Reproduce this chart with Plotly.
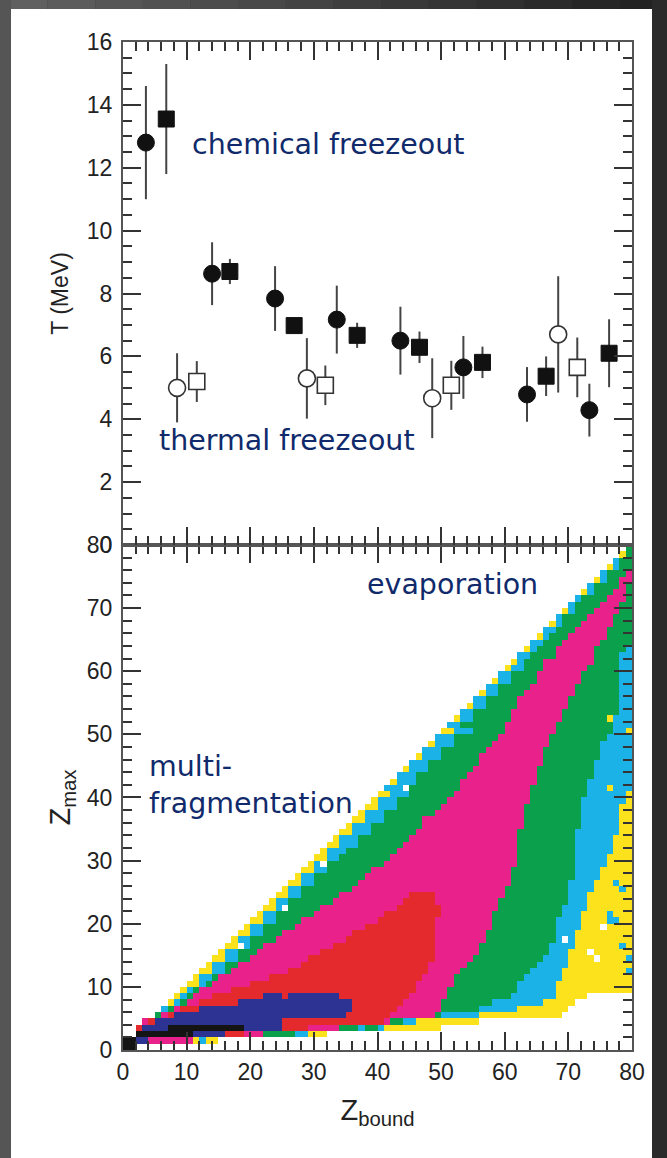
import re
import plotly.graph_objects as go

# ---------------- top panel: temperatures ----------------
chem_circle_x = [3.6, 14.0, 23.9, 33.6, 43.6, 53.5, 63.5, 73.3]
chem_circle_T = [12.8, 8.63, 7.84, 7.17, 6.5, 5.65, 4.79, 4.29]
chem_circle_err = [1.8, 1.0, 1.03, 1.08, 1.08, 1.0, 0.87, 0.84]

chem_square_x = [6.8, 16.8, 26.9, 36.8, 46.6, 56.5, 66.5, 76.4]
chem_square_T = [13.55, 8.7, 6.98, 6.67, 6.29, 5.81, 5.37, 6.1]
chem_square_err = [1.75, 0.4, 0.25, 0.4, 0.5, 0.5, 0.63, 1.08]

therm_circle_x = [8.5, 28.9, 48.6, 68.4]
therm_circle_T = [5.0, 5.3, 4.67, 6.7]
therm_circle_err = [1.1, 1.28, 1.27, 1.85]

therm_square_x = [11.6, 31.8, 51.6, 71.4]
therm_square_T = [5.2, 5.08, 5.08, 5.65]
therm_square_err = [0.65, 0.63, 0.78, 0.95]

# ---------------- bottom panel: Zmax vs Zbound map ----------------
# one string per Zmax bin (row 0 .. 79): "<start Zbound><level>" runs,
# levels: y yellow, c cyan, g green, m magenta, r red, b blue, k black, . empty
ZMAX_ROWS = [
    "0k 2.",
    "0k 2b 4m 11y 12c 13y 15.",
    "2k 11b 16r 19m 22g 27c 29y 32.",
    "2r 3b 7k 19b 25r 29m 34g 37c 38g 40c 41y 50.",
    "3m 4r 5b 25r 41m 42g 44c 46y 56.",
    "5g 6m 7r 8b 35r 42m 49g 50c 56y 69.",
    "6c 7g 8m 9r 12b 36r 43m 50g 56c 62y 70.",
    "7y 8c 9g 10m 12r 18b 36r 44m 50g 58c 66y 71.",
    "8y 9c 10g 11m 14r 22b 25r 26b 34r 45m 51g 61c 68y 73.",
    "9y 10c 11g 12m 17r 46m 51g 62c 68y 80.",
    "10y 12c 13g 14m 20r 46m 52g 62c 68y 80.",
    "11y 12c 14g 15m 23r 47m 52g 63c 69y 80.",
    "12y 14c 16g 17m 26r 48m 53g 64c 69y 80.",
    "13y 14c 16g 18m 28r 48m 54g 65c 70y 80.",
    "14y 16c 18g 20m 29r 49m 55g 66c 70y 80.",
    "15y 16c 18g 21m 31r 49m 56g 67c 70y 80.",
    "16y 18c 20g 22m 33r 49m 56g 67c 71y 80.",
    "17y 18c 20g 24m 35r 49m 57g 68c 71y 80.",
    "18y 20c 22g 25m 36r 49m 57g 68c 71y 80.",
    "19y 20c 22g 27m 38r 49m 58g 68c 72y 80.",
    "20y 22c 24g 28m 40r 49m 58g 68c 72y 80.",
    "21y 22c 24g 30m 41r 50m 58g 69c 72y 80.",
    "22y 24c 26g 31m 43r 50m 59g 69c 73y 80.",
    "23y 24c 26g 33m 44r 49m 59g 70c 73y 80.",
    "24y 26c 28g 34m 45r 49m 60g 70c 73y 80.",
    "25y 26c 28g 36m 60g 70c 74y 80.",
    "26y 28c 30g 37m 61g 70c 74y 80.",
    "27y 28c 30g 38m 61g 71c 75y 80.",
    "28y 30c 32g 39m 61g 71c 75y 80.",
    "29y 30c 32g 41m 62g 71c 76y 80.",
    "30y 32c 34g 42m 62g 71c 76y 80.",
    "31y 32c 35g 43m 62g 71c 77y 80.",
    "32y 34c 37g 44m 62g 71c 77y 80.",
    "33y 34c 37g 45m 62g 71c 77y 80.",
    "34y 36c 39g 46m 62g 71c 78y 80.",
    "35y 36c 39g 47m 63g 72c 78y 80.",
    "36y 38c 41g 47m 63g 72c 78y 80.",
    "37y 38c 41g 49m 63g 72c 78y 80.",
    "38y 40c 43g 50m 63g 72c 79y 80.",
    "39y 40c 43g 51m 64g 72c 79y 80.",
    "40y 42c 45g 52m 64g 73c 79y 80.",
    "41c 44g 53m 64g 73c 80.",
    "42y 43c 46g 53m 65g 73c 80.",
    "43c 46g 54m 65g 74c 80.",
    "44y 45c 48g 55m 65g 74c 80.",
    "45c 48g 56m 66g 74c 80.",
    "46y 47c 50g 56m 66g 75c 80.",
    "47c 50g 57m 66g 75c 80.",
    "48y 49c 52g 58m 67g 75c 80.",
    "49c 52g 59m 67g 76c 80.",
    "50y 52c 55g 60m 68g 77c 80.",
    "51c 53g 60m 68g 77c 80.",
    "52y 53c 55g 61m 69g 77c 80.",
    "53c 55g 61m 69g 78c 80.",
    "54y 55c 57g 62m 70g 78c 80.",
    "55c 57g 62m 70g 78c 80.",
    "56y 57c 59g 63m 71g 78c 80.",
    "57c 59g 64m 71g 78c 80.",
    "58y 59c 61g 65m 72g 78c 80.",
    "59c 61g 65m 72g 78c 80.",
    "60y 61c 63g 66m 73g 78c 80.",
    "61y 62c 63g 66m 74g 78c 80.",
    "62c 64g 68m 74g 78c 80.",
    "63y 64c 65g 68m 74g 79c 80.",
    "64c 66g 69m 75g 80.",
    "65y 66c 67g 70m 76g 80.",
    "66c 68g 71m 76g 80.",
    "67y 68c 69g 72m 77g 80.",
    "68c 69g 73m 77g 80.",
    "69y 70c 71g 74m 78g 80.",
    "70c 71g 75m 78g 80.",
    "71c 72g 76m 79g 80.",
    "72y 73c 74g 77m 79g 80.",
    "73c 74g 78m 79g 80.",
    "74y 75c 76g 78m 80.",
    "75c 76g 79m 80.",
    "76y 77c 78g 80.",
    "77c 78g 80.",
    "78y 79g 80.",
    "79g 80.",
]
# isolated cells (Zbound, Zmax, level)
SPECKS = [
    (76, 52, "y"), (79, 50, "y"), (76, 41, "y"), (78, 38, "y"),
    (76, 20, "c"), (77, 20, "c"), (76, 21, "c"), (78, 16, "c"), (79, 14, "c"),
    (79, 12, "c"), (78, 25, "c"), (77, 26, "c"), (74, 28, "c"),
    (73, 15, "."), (74, 14, "."), (75, 19, "."), (69, 17, "."),
    (18, 16, "."), (31, 29, "."), (25, 22, "."), (44, 41, "."),
]
LEVEL_COLORS = ["#fbe21d", "#1bb2e8", "#0ba04b", "#e8218b", "#e42a2c", "#2d3393", "#141414"]
LEVEL_CODES = {".": None, "y": 1, "c": 2, "g": 3, "m": 4, "r": 5, "b": 6, "k": 7}

NB = 80
zgrid = [[None] * NB for _ in range(NB)]
for j, row in enumerate(ZMAX_ROWS):
    toks = re.findall(r"(\d+)([.ycgmrbk])", row)
    for (s, lv), (e, _) in zip(toks, toks[1:]):
        for i in range(int(s), int(e)):
            zgrid[j][i] = LEVEL_CODES[lv]
for (i, j, lv) in SPECKS:
    zgrid[j][i] = LEVEL_CODES[lv]

nlev = len(LEVEL_COLORS)
cscale = []
for k, col in enumerate(LEVEL_COLORS):
    cscale.append([k / nlev, col])
    cscale.append([(k + 1) / nlev, col])

fig = go.Figure()

fig.add_trace(go.Heatmap(
    x=[i + 0.5 for i in range(NB)], y=[j + 0.5 for j in range(NB)], z=zgrid,
    colorscale=cscale, zmin=0.5, zmax=nlev + 0.5, showscale=False,
    hoverinfo="skip", xaxis="x", yaxis="y",
))

err_style = dict(type="data", color="#444", thickness=2, width=0)
fig.add_trace(go.Scatter(
    x=chem_circle_x, y=chem_circle_T, mode="markers", xaxis="x2", yaxis="y2",
    error_y=dict(array=chem_circle_err, **err_style),
    marker=dict(symbol="circle", size=17, color="#111", line=dict(color="#111", width=1)),
))
fig.add_trace(go.Scatter(
    x=chem_square_x, y=chem_square_T, mode="markers", xaxis="x2", yaxis="y2",
    error_y=dict(array=chem_square_err, **err_style),
    marker=dict(symbol="square", size=16, color="#111", line=dict(color="#111", width=1)),
))
fig.add_trace(go.Scatter(
    x=therm_circle_x, y=therm_circle_T, mode="markers", xaxis="x2", yaxis="y2",
    error_y=dict(array=therm_circle_err, **err_style),
    marker=dict(symbol="circle", size=17, color="white", line=dict(color="#333", width=1.6)),
))
fig.add_trace(go.Scatter(
    x=therm_square_x, y=therm_square_T, mode="markers", xaxis="x2", yaxis="y2",
    error_y=dict(array=therm_square_err, **err_style),
    marker=dict(symbol="square", size=16, color="white", line=dict(color="#333", width=1.6)),
))

tickfont = dict(family="Liberation Sans, Arial, sans-serif", size=23, color="#222")
common = dict(
    showline=True, linecolor="#555", linewidth=2, mirror="ticks",
    ticks="inside", ticklen=18, tickwidth=2, tickcolor="#333",
    showgrid=False, zeroline=False, tickfont=tickfont, automargin=False,
)
minor_x = dict(ticks="inside", dtick=2, ticklen=9, tickwidth=1.5, tickcolor="#333")
fig.update_layout(
    width=667, height=1158,
    margin=dict(l=123, r=35, t=42, b=108),
    paper_bgcolor="#3a3a3a", plot_bgcolor="white",
    showlegend=False,
    xaxis=dict(domain=[0, 1], anchor="y", range=[0, 80], dtick=10, tick0=0,
               minor=minor_x,
               title=dict(text="Z<sub>bound</sub>", standoff=16,
                          font=dict(family="Liberation Sans, Arial", size=29, color="#222")),
               **common),
    yaxis=dict(domain=[0, 0.501], anchor="x", range=[0, 80], dtick=10, tick0=0,
               minor=minor_x, ticklabelstandoff=4,
               title=dict(text="Z<sub>max</sub>", standoff=8,
                          font=dict(family="Liberation Sans, Arial", size=29, color="#222")),
               **common),
    xaxis2=dict(domain=[0, 1], anchor="y2", range=[0, 80], matches="x", dtick=10, tick0=0,
                showticklabels=False, minor=minor_x,
                **common),
    yaxis2=dict(domain=[0.501, 1], anchor="x2", range=[0.001, 16], dtick=2, tick0=0,
                minor=dict(ticks="inside", dtick=0.5, ticklen=9, tickwidth=1.5, tickcolor="#333"),
                ticklabelstandoff=4,
                title=dict(text="T (MeV)", standoff=12,
                           font=dict(family="Liberation Sans, Arial", size=23, color="#222")),
                **common),
)

# page frame: dark border round a white sheet
W, H = 667, 1158
L, R, T, B = 123, 35, 42, 108
pw, ph = W - L - R, H - T - B


def px2paper(px, py):
    return (px - L) / pw, (H - B - py) / ph


shapes = []
nseg = 14
for s in range(nseg):
    x0, _ = px2paper(W * s / nseg, 0)
    x1, _ = px2paper(W * (s + 1) / nseg, 0)
    g = int(0x60 - (0x60 - 0x22) * s / (nseg - 1))
    col = "#%02x%02x%02x" % (g, g, g)
    _, y0 = px2paper(0, 0)
    _, y1 = px2paper(0, 10)
    shapes.append(dict(type="rect", xref="paper", yref="paper", x0=x0, x1=x1, y0=y1, y1=y0,
                       fillcolor=col, line=dict(width=0), layer="below"))
xa, ya = px2paper(0, 0)
xb, yb = px2paper(11, H)
shapes.append(dict(type="rect", xref="paper", yref="paper", x0=xa, x1=xb, y0=yb, y1=ya,
                   fillcolor="#555555", line=dict(width=0), layer="below"))
xa, ya = px2paper(652, 0)
xb, yb = px2paper(W, H)
shapes.append(dict(type="rect", xref="paper", yref="paper", x0=xa, x1=xb, y0=yb, y1=ya,
                   fillcolor="#2a2a2a", line=dict(width=0), layer="below"))
xa, ya = px2paper(11, 9)
xb, yb = px2paper(652, H)
shapes.append(dict(type="rect", xref="paper", yref="paper", x0=xa, x1=xb, y0=yb, y1=ya,
                   fillcolor="white", line=dict(width=0), layer="below"))
fig.update_layout(shapes=shapes)

afont = dict(family="DejaVu Sans, Verdana, sans-serif", size=28.5, color="#102a6b")
fig.add_annotation(x=10.5, y=12.73, xref="x2", yref="y2", text="chemical freezeout",
                   showarrow=False, xanchor="left", yanchor="middle", font=afont)
fig.add_annotation(x=5.35, y=3.33, xref="x2", yref="y2", text="thermal freezeout",
                   showarrow=False, xanchor="left", yanchor="middle", font=afont)
fig.add_annotation(x=38.05, y=73.7, xref="x", yref="y", text="evaporation",
                   showarrow=False, xanchor="left", yanchor="middle", font=afont)
fig.add_annotation(x=3.77, y=42.0, xref="x", yref="y", text="multi-<br>fragmentation",
                   showarrow=False, xanchor="left", yanchor="middle", align="left", font=afont)

fig.write_html("out.html", config={"displayModeBar": False},
               post_script="document.body.style.margin='0px';document.body.style.overflow='hidden';")
